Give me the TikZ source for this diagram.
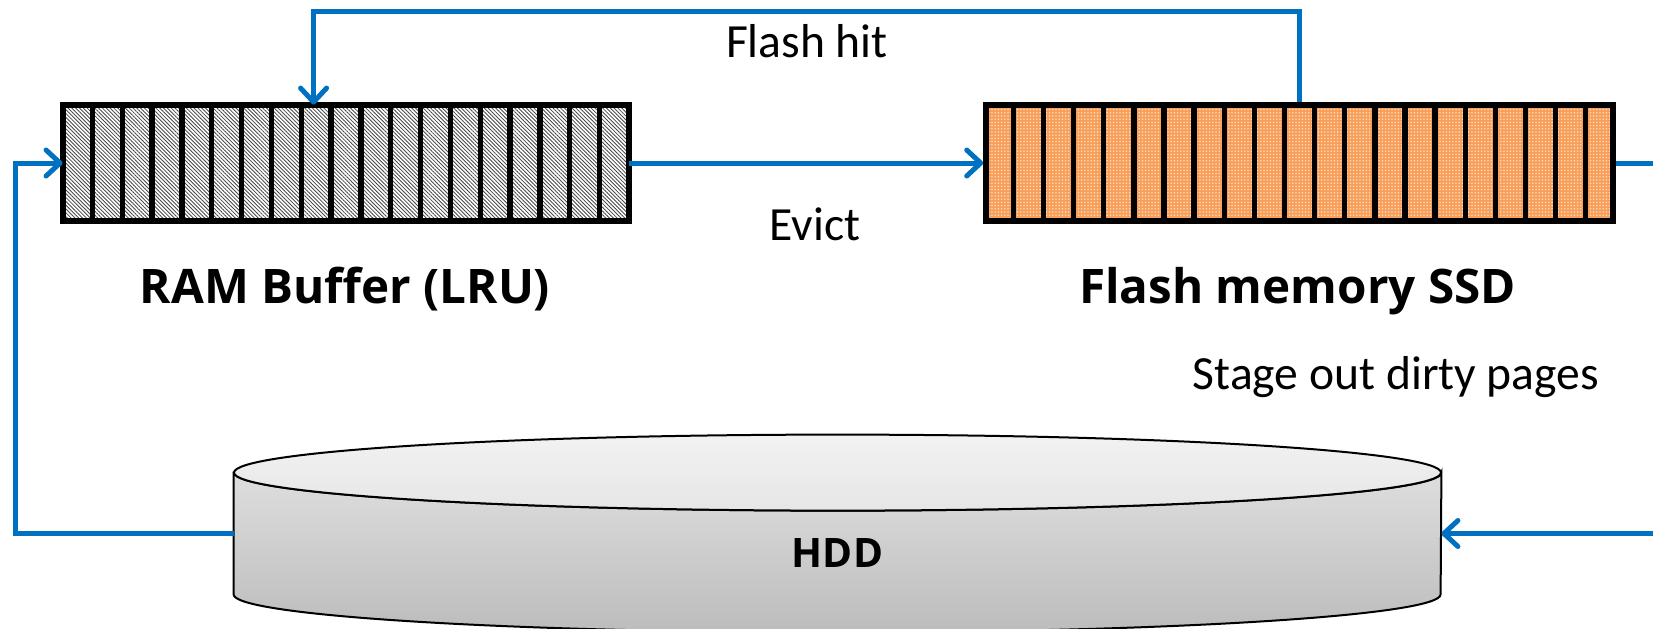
\documentclass[tikz,border=0pt]{standalone}
\usepackage{fontspec}
\setmainfont{Carlito}
\newfontfamily\labfont{Open Sans}
\usetikzlibrary{arrows.meta,patterns.meta,calc}
\definecolor{linkblue}{HTML}{0070C0}
\definecolor{flashorange}{HTML}{F89E58}
\definecolor{dotcolor}{HTML}{FDDCBE}
\definecolor{hddcap}{HTML}{F2F2F2}
\definecolor{hddcapb}{HTML}{E6E6E6}
\definecolor{hddtop}{HTML}{DEDEDE}
\definecolor{hddbot}{HTML}{BCBCBC}
\begin{document}
\begin{tikzpicture}[x=0.5pt,y=-0.5pt,
  conn/.style={draw=linkblue, line width=2.5pt},
  tipped/.style={-{Straight Barb[length=7pt,width=13pt,line cap=round,line join=round]}},
  membox/.style={draw=black, line width=2.8pt, minimum height=58pt, inner sep=0pt},
  cellsep/.style={draw=black, line width=2.7pt},
  hatched/.style={pattern={Lines[angle=-45,distance=1.35pt,line width=0.42pt]}, pattern color=black!72},
  dotted/.style={preaction={fill=flashorange}, pattern={Dots[distance=1.6pt,radius=0.45pt]}, pattern color=dotcolor},
  note/.style={font=\fontsize{23.8}{28}\selectfont, inner sep=0pt, anchor=base},
  title/.style={font=\labfont\bfseries\fontsize{23.8}{28}\selectfont, inner sep=0pt, anchor=base},
  diskline/.style={draw=black, line width=1pt}]

\useasboundingbox (0,0) rectangle (1653,628);
\clip (0,0) rectangle (1653,628);
\fill[white] (0,0) rectangle (1653,628);

% RAM buffer: 19 hatched slots
\node[membox, hatched, minimum width=283pt] (ram) at (346,163) {};
\foreach \k in {1,...,18}
  \draw[cellsep] ($(ram.north west)!\k/19!(ram.north east)$) -- ($(ram.south west)!\k/19!(ram.south east)$);

% Flash SSD: 21 dotted orange slots
\node[membox, dotted, minimum width=313.5pt] (flash) at (1299.5,163) {};
\foreach \k in {1,...,20}
  \draw[cellsep] ($(flash.north west)!\k/21!(flash.north east)$) -- ($(flash.south west)!\k/21!(flash.south east)$);

% HDD drawn as a shaded cylinder around the side frame (hdd)
\node[inner sep=0pt, minimum width=603.5pt, minimum height=60.5pt] (hdd) at (837.5,533.5) {};
\path[diskline, top color=hddtop, bottom color=hddbot]
  (hdd.north west) -- (hdd.south west)
  arc[start angle=180, end angle=360, x radius=301.75pt, y radius=19pt]
  -- (hdd.north east)
  arc[start angle=0, end angle=-180, x radius=301.75pt, y radius=19pt] -- cycle;
\path[diskline, top color=hddcap, bottom color=hddcapb]
  (hdd.north) ellipse [x radius=301.75pt, y radius=19pt];

% Labels
\node[note] (hit) at (807,57) {Flash hit};
\node[note] (evict) at (815,240) {Evict};
\node[title] (ramlab) at (345,303) {RAM Buffer (LRU)};
\node[title] (flashlab) at (1297.5,303) {Flash memory SSD};
\node[note] (stage) at (1396,389) {Stage out dirty pages};
\node[title, font=\labfont\bfseries\fontsize{20.3}{24}\selectfont] (hddlab) at (837.5,567) {HDD};

% Connectors
\coordinate (hitin) at ($(ram.north west)+(251,0)$);
\draw[conn, tipped] (flash.north) -- ++(0,-91) -| (hitin);
\draw[conn, tipped] (ram.east) -- (flash.west);
\draw[conn, tipped] (hdd.west) -- ++(-218,0) |- (ram.west);
\draw[conn, tipped] (flash.east) -- ++(90,0) |- (hdd.east);
\end{tikzpicture}
\end{document}
